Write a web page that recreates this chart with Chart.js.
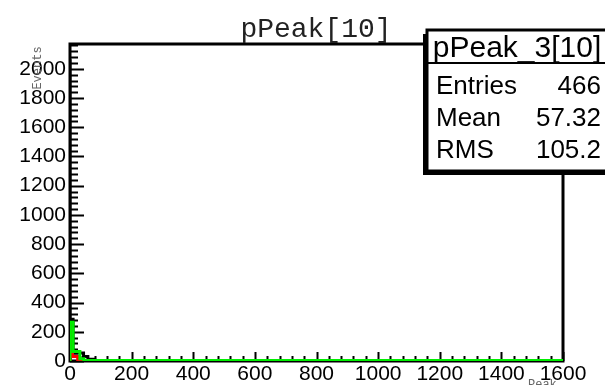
<!DOCTYPE html>
<html>
<head>
<meta charset="utf-8">
<script src="https://cdn.jsdelivr.net/npm/chart.js@4.4.1/dist/chart.umd.min.js"></script>
<style>
html, body { margin: 0; padding: 0; background: #fff; }
#wrap { width: 605px; height: 385px; position: relative; }
</style>
</head>
<body>
<div id="wrap"><canvas id="chart"></canvas></div>
<script>
// histogram pPeak[10]
const titleText = 'pPeak[10]';
const xTitle = 'Peak';
const yTitle = 'Events';
const statsName = 'pPeak_3[10]';
const statsLabels = ['Entries', 'Mean', 'RMS'];
const statsValues = ['466', '57.32', '105.2'];

const xTickValues = [0, 200, 400, 600, 800, 1000, 1200, 1400, 1600];
const yTickValues = [0, 200, 400, 600, 800, 1000, 1200, 1400, 1600, 1800, 2000];

// bin edges + contents (step histograms)
const blackEdges = [0, 10, 44, 58, 80, 160, 300, 1600];
const blackCounts = [2065, 285, 55, 30, 12, 4, 1];
const redEdges = [0, 8, 25, 40, 1600];
const redCounts = [130, 250, 30, 2];
const greenEdges = [0, 10, 32, 45, 60, 1600];
const greenCounts = [70, 265, 65, 15, 3];

function stepPoints(edges, counts) {
    const pts = [{ x: edges[0], y: 0 }];
    counts.forEach((c, i) => pts.push({ x: edges[i], y: c }));
    pts.push({ x: edges[edges.length - 1], y: counts[counts.length - 1] });
    return pts;
}

// frame + inside ticks like ROOT
const rootFrame = {
    id: 'rootFrame',
    beforeDatasetsDraw(chart) {
        const { ctx, chartArea: a, scales: { x, y } } = chart;
        ctx.save();
        ctx.strokeStyle = '#000';
        ctx.lineWidth = 2;
        ctx.beginPath();
        for (let v = 0; v <= y.max; v += 40) {
            const py = Math.round(y.getPixelForValue(v)) + 0.5;
            const len = v % 200 === 0 ? 14 : 8;
            ctx.moveTo(a.left, py);
            ctx.lineTo(a.left + len, py);
        }
        for (let v = 0; v <= x.max; v += 40) {
            const px = Math.round(x.getPixelForValue(v)) + 0.5;
            const len = v % 200 === 0 ? 9 : 5;
            ctx.moveTo(px, a.bottom);
            ctx.lineTo(px, a.bottom - len);
        }
        ctx.stroke();
        ctx.lineWidth = 3;
        ctx.strokeRect(a.left, a.top, a.right - a.left, a.bottom - a.top);
        ctx.restore();
    },
    afterDraw(chart) {
        const { ctx } = chart;
        ctx.save();
        // title
        ctx.fillStyle = '#222';
        ctx.font = '28px "Liberation Mono", monospace';
        ctx.textAlign = 'center';
        ctx.textBaseline = 'alphabetic';
        ctx.fillText(titleText, 316, 37);
        // axis titles
        ctx.fillStyle = '#666';
        ctx.font = '12px "Liberation Mono", monospace';
        ctx.textAlign = 'left';
        ctx.fillText(xTitle, 528, 388);
        ctx.translate(41, 68);
        ctx.rotate(-Math.PI / 2);
        ctx.textAlign = 'center';
        ctx.fillText(yTitle, 0, 0);
        ctx.setTransform(1, 0, 0, 1, 0, 0);
        // stats box with shadow
        const bx = 427, by = 30, bw = 185, bh = 141;
        ctx.fillStyle = '#000';
        ctx.fillRect(bx - 4, by + 4, bw, bh);
        ctx.fillStyle = '#fff';
        ctx.fillRect(bx, by, bw, bh);
        ctx.strokeStyle = '#000';
        ctx.lineWidth = 3;
        ctx.strokeRect(bx, by, bw, bh);
        ctx.lineWidth = 2;
        ctx.beginPath();
        ctx.moveTo(bx, 63);
        ctx.lineTo(bx + bw, 63);
        ctx.stroke();
        ctx.fillStyle = '#000';
        ctx.font = '30px "Liberation Sans", Arial, sans-serif';
        ctx.textAlign = 'center';
        ctx.fillText(statsName, 517, 57);
        ctx.font = '26px "Liberation Sans", Arial, sans-serif';
        const rowY = [94, 126, 158];
        statsLabels.forEach((lab, i) => {
            ctx.textAlign = 'left';
            ctx.fillText(lab, 436, rowY[i]);
            ctx.textAlign = 'right';
            ctx.fillText(statsValues[i], 601, rowY[i]);
        });
        ctx.restore();
    }
};

const tickFont = { family: '"Liberation Sans", Arial, sans-serif', size: 21 };

new Chart(document.getElementById('chart'), {
    type: 'line',
    data: {
        datasets: [
            { data: stepPoints(greenEdges, greenCounts), borderColor: '#00ee00', borderWidth: 3, order: 1 },
            { data: stepPoints(redEdges, redCounts), borderColor: '#ff0000', borderWidth: 3, order: 2 },
            { data: stepPoints(blackEdges, blackCounts), borderColor: '#000000', borderWidth: 3, order: 3 }
        ]
    },
    options: {
        responsive: true,
        maintainAspectRatio: false,
        animation: false,
        devicePixelRatio: 1,
        layout: { padding: { top: 44, right: 42, left: 0, bottom: 0 } },
        elements: {
            line: { stepped: 'after', fill: false, tension: 0 },
            point: { radius: 0, hoverRadius: 0 }
        },
        plugins: { legend: { display: false }, tooltip: { enabled: false }, title: { display: false } },
        scales: {
            x: {
                type: 'linear', min: 0, max: 1600,
                afterBuildTicks: s => { s.ticks = xTickValues.map(v => ({ value: v })); },
                afterFit: s => { s.height = 24; },
                grid: { display: false, drawTicks: false },
                border: { display: false },
                ticks: { font: tickFont, color: '#000', padding: 1, maxRotation: 0, autoSkip: false, callback: v => String(v) }
            },
            y: {
                type: 'linear', min: 0, max: 2170,
                afterBuildTicks: s => { s.ticks = yTickValues.map(v => ({ value: v })); },
                afterFit: s => { s.width = 70; },
                grid: { display: false, drawTicks: false },
                border: { display: false },
                ticks: { font: tickFont, color: '#000', padding: 4, autoSkip: false, callback: v => String(v) }
            }
        }
    },
    plugins: [rootFrame]
});
</script>
</body>
</html>
